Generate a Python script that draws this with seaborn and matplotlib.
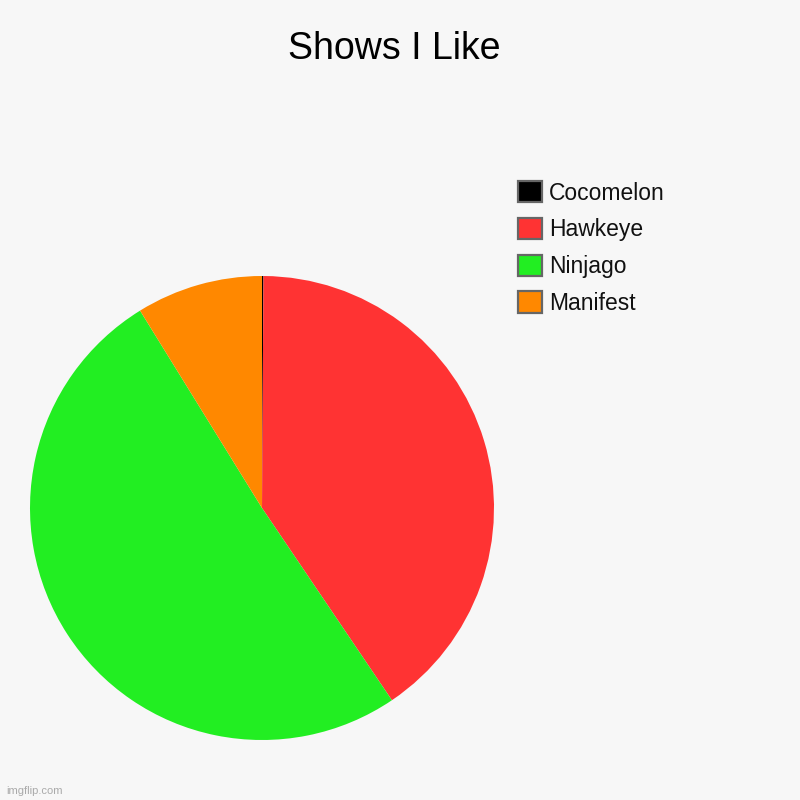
import matplotlib
matplotlib.use("Agg")
import matplotlib.pyplot as plt
from matplotlib.patches import Patch
import seaborn as sns

# data
shows = ["Cocomelon", "Hawkeye", "Ninjago", "Manifest"]
shares = [0.1, 40.4, 50.6, 8.8]
colors = ["#000000", "#ff3333", "#22ee22", "#ff8800"]

sns.set_theme(style="white")
plt.rcParams["font.family"] = ["Liberation Sans", "DejaVu Sans"]

BG = "#f7f7f7"
fig = plt.figure(figsize=(8, 8), dpi=100, facecolor=BG)

# pie area: centre ~(262, 508) px, radius ~232 px
ax = fig.add_axes([30 / 800, 60 / 800, 464 / 800, 464 / 800])
ax.set_facecolor(BG)
ax.pie(shares, colors=colors, startangle=90, counterclock=False,
       radius=1, wedgeprops={"linewidth": 0})
ax.set_xlim(-1, 1)
ax.set_ylim(-1, 1)
ax.set_aspect("equal")
ax.axis("off")

fig.text(394 / 800, 1 - 49 / 800, "Shows I Like", ha="center", va="center",
         fontsize=27, color="black")

handles = [Patch(facecolor=c, edgecolor="#666666", linewidth=1.6) for c in colors]
fig.legend(handles, shows, loc="upper left", bbox_to_anchor=(518 / 800, 1 - 181 / 800),
           frameon=False, fontsize=16.5, handlelength=1.06, handleheight=1.06,
           handletextpad=0.3, labelspacing=0.58, borderaxespad=0, borderpad=0,
           labelcolor="#111111")

fig.text(6 / 800, 1 - 791 / 800, "imgflip.com", ha="left", va="center",
         fontsize=8, color="#aaaaaa")

fig.savefig("out.png", dpi=100, facecolor=BG)
